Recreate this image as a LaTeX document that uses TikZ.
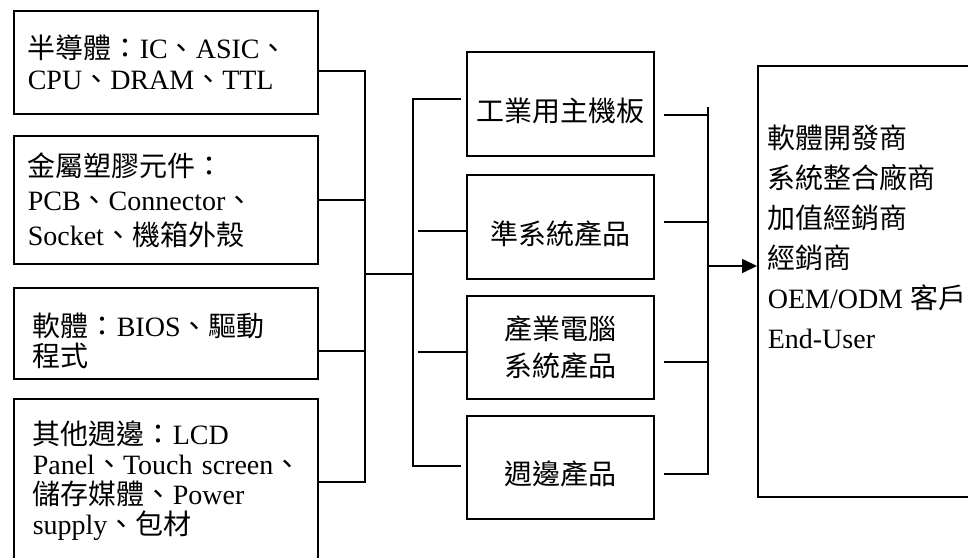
\documentclass[tikz,border=0pt]{standalone}
\usepackage{fontspec}
\setmainfont{Liberation Serif}
\newfontfamily\tc{Noto Sans CJK TC}
\newcommand{\zh}[1]{{\tc #1}}
\usetikzlibrary{arrows.meta}

\begin{document}
\begin{tikzpicture}[x=1pt,y=-1pt,line width=1.6pt,
    box/.style={draw, fill=white, anchor=north west, inner sep=0pt,
        font=\fontsize{28}{31}\selectfont},
    part/.style={box, minimum width=304pt, text width=276pt, align=left},
    partin/.style={part, text width=266pt},
    prod/.style={box, minimum width=187pt, minimum height=104pt, align=center,
        execute at begin node={\rule{0pt}{37pt}}}]
    \useasboundingbox (0,0) rectangle (968,557);

    % components
    \node[part, minimum height=103pt] (semi) at (13,10)
        {\zh{半導體：}IC\zh{、}ASIC\zh{、}\\CPU\zh{、}DRAM\zh{、}TTL};
    \node[part, minimum height=128pt, font=\fontsize{28}{34.5}\selectfont] (metal) at (13,135)
        {\zh{金屬塑膠元件：}\\PCB\zh{、}Connector\zh{、}\\Socket\zh{、機箱外殼}};
    \node[partin, minimum height=91pt, font=\fontsize{28}{30}\selectfont] (soft) at (13,287)
        {\rule{0pt}{39pt}\zh{軟體：}BIOS\zh{、驅動}\\\zh{程式}};
    \node[partin, minimum height=164pt, font=\fontsize{28}{30}\selectfont] (other) at (13,398)
        {\zh{其他週邊：}LCD\\\mbox{Panel\zh{、}Touch screen\zh{、}}\\\zh{儲存媒體、}Power\\supply\zh{、包材}};

    % products
    \node[prod] (board) at (466,51) {\zh{工業用主機板}};
    \node[prod] (semisys) at (466,174) {\zh{準系統產品}};
    \node[prod, minimum height=103pt, font=\fontsize{28}{37}\selectfont] (ipc) at (466,295)
        {\zh{產業電腦}\\\zh{系統產品}};
    \node[prod, minimum height=103pt] (periph) at (466,415) {\zh{週邊產品}};

    % customers
    \node[box, minimum width=240pt, minimum height=431pt] (cust) at (757,65) {};
    \node[anchor=north west, inner sep=0pt, align=left,
        font=\fontsize{28}{40}\selectfont] (custtext) at (767,124)
        {\zh{軟體開發商}\\\zh{系統整合廠商}\\\zh{加值經銷商}\\\zh{經銷商}\\OEM/ODM \zh{客戶}\\End-User};

    % left bus
    \coordinate (lbus) at (365,274);
    \draw ([yshift=-8.5pt]semi.east) -| (lbus);
    \draw (metal.east) -| (lbus);
    \draw ([yshift=-17.5pt]soft.east) -| (lbus);
    \draw ([yshift=-1pt]other.east) -| (lbus);

    % middle bus
    \coordinate (mbus) at (413,274);
    \draw (lbus) -- (mbus);
    \draw (mbus) |- ([xshift=-5pt,yshift=5pt]board.west);
    \draw ([xshift=-48pt,yshift=-4pt]semisys.west) -- ([yshift=-4pt]semisys.west);
    \draw ([xshift=-48pt,yshift=-4.5pt]ipc.west) -- ([yshift=-4.5pt]ipc.west);
    \draw (mbus) |- ([xshift=-5pt,yshift=1.5pt]periph.west);

    % right bus
    \coordinate (rbus) at (708,266);
    \coordinate (rtop) at (708,107);
    \draw (rtop) -- (rbus);
    \draw ([xshift=9pt,yshift=-11pt]board.east) -| (rbus);
    \draw ([xshift=9pt,yshift=5pt]semisys.east) -| (rbus);
    \draw ([xshift=9pt,yshift=-14.5pt]ipc.east) -| (rbus);
    \draw ([xshift=9pt,yshift=-6.5pt]periph.east) -| (rbus);
    \draw[-{Triangle[length=15pt,width=14pt]}] (rbus) -- (rbus -| cust.west);
\end{tikzpicture}
\end{document}
